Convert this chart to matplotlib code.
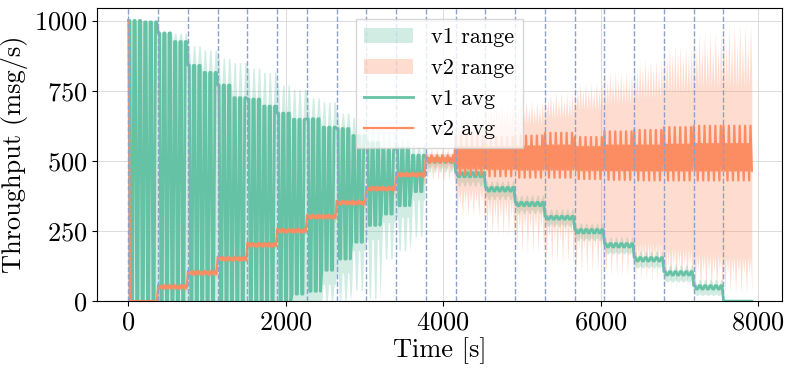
import numpy as np
import matplotlib
matplotlib.use('Agg')
import matplotlib.pyplot as plt

# each load phase lasts 378 s, 21 phases
step_len = 378
n_steps = 21
pts = 22  # samples per phase

# v1 values, two per phase (first half, second half), msg/s
v1_avg_hi = [1000, 995, 955, 925, 840, 815, 770, 725, 720, 695, 670, 648, 650, 620, 615, 590, 565, 540, 545, 520,
             510, 510, 458, 458, 405, 405, 352, 352, 302, 302, 255, 255, 205, 205, 155, 155, 105, 105, 55, 55, 0, 0]
v1_avg_lo = [0, 0, 0, 0, 0, 0, 0, 0, 0, 0, 0, 25, 35, 110, 150, 210, 270, 310, 340, 390,
             495, 495, 443, 443, 392, 392, 340, 340, 292, 292, 243, 243, 193, 193, 143, 143, 93, 93, 43, 43, 0, 0]
v1_rng_top = [1000, 1000, 965, 955, 910, 895, 865, 850, 830, 815, 770, 755, 725, 710, 670, 655, 620, 605, 580, 560,
              525, 525, 478, 478, 428, 428, 378, 378, 328, 328, 278, 278, 228, 228, 178, 178, 128, 128, 78, 78, 4, 4]
v1_rng_top_dip = [1000, 995, 955, 925, 840, 815, 770, 725, 720, 695, 670, 648, 650, 620, 615, 590, 565, 540, 545, 520,
                  512, 512, 462, 462, 410, 410, 358, 358, 308, 308, 260, 260, 210, 210, 160, 160, 110, 110, 60, 60, 2, 2]
v1_rng_bot = [0, 0, 0, 0, 0, 0, 0, 0, 0, 0, 0, 0, 0, 60, 100, 180, 220, 280, 300, 360,
              485, 485, 425, 425, 375, 375, 325, 325, 275, 275, 225, 225, 175, 175, 125, 125, 75, 75, 25, 25, 0, 0]
v1_rng_bot_dip = [0, 0, 0, 0, 0, 0, 0, 0, 0, 0, 0, 0, 0, 0, 0, 40, 10, 150, 180, 230,
                  460, 460, 410, 410, 362, 362, 312, 312, 265, 265, 215, 215, 168, 168, 118, 118, 68, 68, 20, 20, 0, 0]

# v2 values, one per phase
v2_start = 1000
v2_avg_spike = [0, 58, 108, 158, 208, 258, 308, 358, 408, 458, 520, 590, 585, 590, 600, 585, 605, 610, 620, 625, 625]
v2_avg_hi = [0, 55, 105, 155, 205, 255, 305, 355, 405, 455, 510, 550, 550, 552, 555, 550, 555, 555, 558, 560, 560]
v2_avg_lo = [0, 46, 96, 146, 196, 246, 296, 346, 396, 446, 498, 472, 470, 468, 468, 466, 466, 465, 465, 465, 465]
v2_avg_dip = [0, 44, 94, 144, 194, 244, 294, 344, 394, 444, 492, 450, 445, 440, 440, 435, 432, 430, 430, 430, 430]
v2_rng_top = [0, 65, 115, 165, 215, 265, 315, 365, 420, 475, 545, 660, 705, 715, 745, 780, 820, 860, 910, 960, 990]
v2_rng_top_mid = [0, 62, 112, 162, 212, 262, 312, 362, 415, 468, 530, 630, 680, 690, 720, 755, 790, 830, 880, 900, 920]
v2_rng_top_dip = [0, 58, 108, 158, 208, 258, 308, 358, 408, 458, 520, 600, 620, 630, 650, 680, 700, 720, 740, 760, 760]
v2_rng_bot = [0, 40, 90, 140, 190, 240, 290, 335, 385, 430, 480, 400, 370, 330, 300, 260, 230, 210, 190, 170, 160]
v2_rng_bot_mid = [0, 38, 88, 138, 188, 238, 285, 328, 378, 420, 470, 350, 300, 260, 220, 190, 170, 150, 130, 110, 100]
v2_rng_bot_dip = [0, 35, 85, 135, 185, 235, 280, 320, 370, 410, 430, 300, 230, 170, 130, 100, 90, 75, 50, 30, 30]

# build the time series phase by phase
t, a1, a2, r1t, r1b, r2t, r2b = [], [], [], [], [], [], []
dt = step_len / pts
for s in range(n_steps):
    for j in range(pts):
        t.append(s * step_len + j * dt)
        h = 2 * s + (0 if j < pts // 2 else 1)
        up1 = j % 4 < 2
        a1.append(v1_avg_hi[h] if up1 else v1_avg_lo[h])
        r1t.append(v1_rng_top[h] if up1 else v1_rng_top_dip[h])
        r1b.append(v1_rng_bot[h] if up1 else v1_rng_bot_dip[h])
        k = j % 4
        a2.append([v2_avg_spike, v2_avg_lo, v2_avg_hi, v2_avg_dip][k][s])
        r2t.append([v2_rng_top, v2_rng_top_dip, v2_rng_top_mid, v2_rng_top_dip][k][s])
        r2b.append([v2_rng_bot, v2_rng_bot_dip, v2_rng_bot, v2_rng_bot_mid][k][s])
a2[0] = v2_start
r2t[0] = v2_start
t = np.array(t)

plt.rcParams['font.family'] = 'serif'
plt.rcParams['font.serif'] = ['cmr10']
plt.rcParams['mathtext.fontset'] = 'cm'
plt.rcParams['axes.formatter.use_mathtext'] = True

c1 = '#66c2a5'
c2 = '#fc8d62'

fig = plt.figure(figsize=(7.92, 3.75), dpi=100)
ax = fig.add_axes([0.1225, 0.197, 0.8645, 0.782])

ax.fill_between(t, r1b, r1t, color=c1, alpha=0.3, linewidth=0, label='v1 range')
ax.fill_between(t, r2b, r2t, color=c2, alpha=0.3, linewidth=0, label='v2 range')
ax.plot(t, a1, color=c1, linewidth=2, label='v1 avg')
ax.plot(t, a2, color=c2, linewidth=1.6, label='v2 avg')

for s in range(n_steps):
    ax.axvline(s * step_len, color='#8da0cb', linestyle='--', linewidth=1, zorder=3)

ax.grid(True, color='#cccccc', linewidth=0.6, alpha=0.8)
ax.set_axisbelow(True)
ax.set_xlim(-400, 8300)
ax.set_ylim(0, 1045)
ax.set_xticks([0, 2000, 4000, 6000, 8000])
ax.set_yticks([0, 250, 500, 750, 1000])
ax.tick_params(labelsize=19)
ax.set_xlabel('Time [s]', fontsize=19, labelpad=2)
ax.set_ylabel('Throughput (msg/s)', fontsize=19)

leg = ax.legend(loc='upper center', fontsize=16, framealpha=0.8, fancybox=False,
                handlelength=2.2)
leg.set_zorder(10)

plt.savefig('out.png', dpi=100)
